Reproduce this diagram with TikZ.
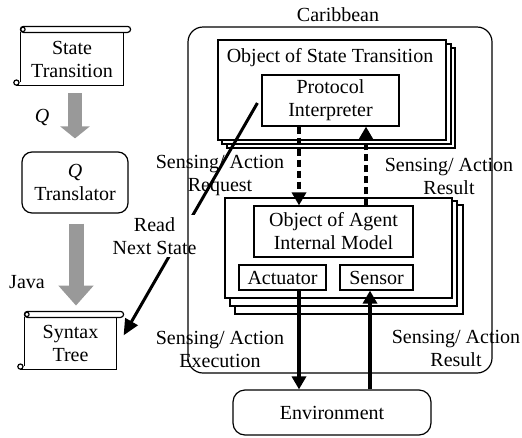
\documentclass[tikz,border=0pt]{standalone}
\usepackage{fontspec}
\setmainfont{Liberation Serif}
\usetikzlibrary{arrows.meta,calc}
\definecolor{arrgray}{gray}{0.6}
\newcommand\scrolldeco[1]{%
  \draw[rounded corners=3pt] ($(#1.north west)+(0,-6)$) rectangle ($(#1.north east)+(7,0)$);
  \draw (#1.north west)+(2.5,-3) circle[radius=2.2pt];
  \draw (#1.north west) -- ($(#1.south west)+(0,-4)$);
  \draw (#1.north east) -- (#1.south east) -- ($(#1.south west)+(-4,0)$);
  \draw ($(#1.south west)+(-4,-3)$) circle[radius=2.6pt];
}
\begin{document}
\begin{tikzpicture}[x=1pt,y=-1pt,
  font=\fontsize{20}{23}\selectfont, line width=1.2pt,
  body/.style={inner sep=0pt, align=center},
  frame/.style={draw, fill=white, inner sep=0pt},
  lbl/.style={align=center, inner sep=0pt},
  dasharrow/.style={line width=3.5pt, dash pattern=on 7pt off 4pt, -{Triangle[width=14pt,length=13pt]}},
  solidarrow/.style={line width=3.5pt, -{Triangle[width=14pt,length=13pt]}},
  diagarrow/.style={line width=3pt, -{Triangle[width=14pt,length=16pt]}}]
\useasboundingbox (0,0) rectangle (522,437);

% left column
\node[body, minimum width=102pt, minimum height=52pt] (st) at (72,59) {State\\Transition};
\scrolldeco{st}
\node[body, minimum width=91pt, minimum height=51pt] (sy) at (70.5,343.5) {Syntax\\Tree};
\scrolldeco{sy}

\node[lbl] (q) at (42,117) {\itshape Q};
\node[lbl] (java) at (27,282) {Java};

% Caribbean label and stacks
\node[lbl] (car) at (338,15) {Caribbean};
\node[frame, minimum width=228pt, minimum height=100pt] (s3) at (341,98) {};
\node[frame, minimum width=229pt, minimum height=100pt] (s2) at (336.5,94) {};
\node[frame, minimum width=228pt, minimum height=100pt] (sfront) at (332,90) {};
\node[lbl] (ost) at (330,58) {Object of State Transition};
\node[frame, minimum width=137pt, minimum height=51pt, align=center] (pi) at (330.5,100.5) {Protocol\\Interpreter};

\node[frame, minimum width=228pt, minimum height=109pt] (a3) at (349,259.5) {};
\node[frame, minimum width=227pt, minimum height=105pt] (a2) at (343.5,253.5) {};
\node[frame, minimum width=227pt, minimum height=100pt] (afront) at (338.5,248) {};
\node[frame, minimum width=159pt, minimum height=51pt, align=center] (am) at (333.5,231.5) {Object of Agent\\Internal Model};
\node[frame, minimum width=87pt, minimum height=25pt] (act) at (282.5,277.5) {Actuator};
\node[frame, minimum width=73pt, minimum height=25pt] (sen) at (376.5,277.5) {Sensor};

\node[draw, rounded corners=12pt, minimum width=198pt, minimum height=45pt, inner sep=0pt] (env) at (332,412.5) {Environment};

% labels
\node[lbl] (sreq) at (220,176) {Sensing/ Action\\Request};
\node[lbl] (sres) at (449,176) {Sensing/ Action\\Result};
\node[lbl] (sexe) at (220,349) {Sensing/ Action\\Execution};
\node[lbl] (sres2) at (456,348) {Sensing/ Action\\Result};

% connectors
\coordinate (c1) at (299,0);
\coordinate (c2) at (366,0);
\coordinate (c3) at (370,0);
\draw[dasharrow] (pi.south -| c1) -- (am.north -| c1);
\draw[dasharrow] (am.north -| c2) -- (pi.south -| c2);
\draw[solidarrow] (act.south -| c1) -- (env.north -| c1);
\draw[solidarrow] (env.north -| c3) -- (sen.south -| c3);

\draw[diagarrow] ($(pi.west)+(-4,2.5)$) -- ($(sy.north east)+(7,18)$);
\node[lbl, fill=white, inner xsep=2pt, inner ysep=2pt] (rns) at (154.5,236) {Read\\Next State};

\node[draw, fill=white, rounded corners=10pt, minimum width=106pt, minimum height=61pt, inner sep=0pt, align=center] (qt) at (75,182.5) {\itshape Q\\\upshape Translator};

% gray arrows
\draw[arrgray, line width=14pt, -{Triangle[width=29pt,length=12pt]}] ($(qt.north)+(0,-58)$) -- ($(qt.north)+(0,-13)$);
\draw[arrgray, line width=15pt, -{Triangle[width=34pt,length=20pt]}] ($(qt.south)+(1,10)$) -- ($(qt.south)+(1,92)$);

% Caribbean frame on top
\draw[rounded corners=15pt] (188,27) rectangle (492,373);
\end{tikzpicture}
\end{document}
